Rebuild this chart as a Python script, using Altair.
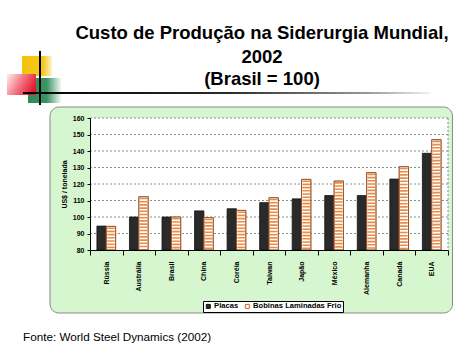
import altair as alt
import pandas as pd

# ---------------- data ----------------
COUNTRIES = ["Rússia", "Austrália", "Brasil", "China", "Coréia", "Taiwan",
             "Japão", "México", "Alemanha", "Canadá", "EUA"]
PLACAS = [94.5, 100, 100, 103.7, 105, 108.7, 111, 113, 113, 123, 138.6]
BOBINAS = [94.3, 112.3, 100, 99.6, 104, 111.7, 122.8, 121.8, 126.9, 130.5, 146.9]
SERIES = ["Placas", "Bobinas Laminadas Frio"]
Y_TICKS = [80, 90, 100, 110, 120, 130, 140, 150, 160]
TITLE_LINES = ["Custo de Produção na Siderurgia Mundial,", "2002", "(Brasil = 100)"]
SOURCE = "Fonte: World Steel Dynamics (2002)"
Y_TITLE = "US$ / tonelada"

rows = []
for c, p, b in zip(COUNTRIES, PLACAS, BOBINAS):
    rows.append({"pais": c, "serie": SERIES[0], "valor": p})
    rows.append({"pais": c, "serie": SERIES[1], "valor": b})
df = pd.DataFrame(rows)
df_bob = df[df["serie"] == SERIES[1]]
grid_df = pd.DataFrame({"valor": Y_TICKS[1:]})
one = pd.DataFrame({"a": [0]})
BASE = Y_TICKS[0]

FONT = "Liberation Sans"
W, H = 358, 132

xs = alt.Scale(domain=COUNTRIES, paddingInner=0, paddingOuter=0)
xo = alt.Scale(domain=SERIES, paddingInner=0, paddingOuter=0.74)
ys = alt.Scale(domain=[Y_TICKS[0], Y_TICKS[-1]], nice=False, zero=False)

x_axis = alt.Axis(title=None, labelAngle=-90, labelFont=FONT, labelFontSize=7,
                  labelFontWeight="bold", labelColor="black", domainColor="black",
                  tickColor="black", tickSize=5, labelPadding=6, tickBand="extent",
                  zindex=1)
y_axis = alt.Axis(title=Y_TITLE, values=Y_TICKS, grid=False, labelFont=FONT,
                  labelFontSize=7, labelFontWeight="bold", labelColor="black",
                  labelOverlap=False, labelFlush=False,
                  titleFont=FONT, titleFontSize=7, titleFontWeight="bold",
                  titleColor="black", titlePadding=5, domainColor="black",
                  tickColor="black", tickSize=3, labelPadding=3, zindex=1)
xo_enc = alt.XOffset("serie:N", scale=xo, sort=SERIES)

legend = alt.Legend(orient="none", legendX=113, legendY=183, direction="horizontal",
                    title=None, strokeColor="black", fillColor="white", padding=1.5,
                    symbolType="square", symbolSize=16, symbolStrokeWidth=1,
                    labelFont=FONT, labelFontSize=7.6, labelFontWeight="bold",
                    labelColor="black", labelOffset=2, columnPadding=4)

# ---------------- decorations ----------------
def box(x, x2, y, y2, **kw):
    return alt.Chart(one).mark_rect(**kw).encode(
        x=alt.value(x), x2=alt.value(x2), y=alt.value(y), y2=alt.value(y2))

def grad(stops, x1=0, y1=0, x2=1, y2=0):
    return alt.LinearGradient(gradient="linear",
                              stops=[alt.GradientStop(color=c, offset=o) for o, c in stops],
                              x1=x1, y1=y1, x2=x2, y2=y2)

green_box = box(-40, 362.5, -11, 195, fill="#d5f6cf", stroke="#8a8a8a", strokeWidth=1,
                cornerRadius=9)
plot_bg = box(0, W, 0, H, fill="white")
yellow = box(-68, -38, -62, -42, fill=grad([(0, "#f4c20d"), (0.7, "#f6c81a"), (1, "#fdf3d0")]))
green_sq = box(-62, -28, -40, -15, fill=grad([(0, "#2e8b57"), (0.55, "#3a9363"), (1, "#ffffff")]))
red_sq = box(-83, -54, -44, -23, fill=grad([(0, "#fbe0e0"), (0.5, "#f27080"), (1, "#e3162b")],
                                             x1=0, y1=0.2, x2=1, y2=0.6))
vline = box(-51, -49, -67, -13, fill="black")
hline = box(-67, 340, -26, -24, fill=grad([(0, "#000000"), (0.5, "#2a2a2a"), (0.85, "#9a9a9a"),
                                            (1, "#f0f0f0")]))

grid = alt.Chart(grid_df).mark_rule(color="#8c8c8c", strokeDash=[2, 2], strokeWidth=1).encode(
    y=alt.Y("valor:Q", scale=ys, axis=y_axis), x=alt.value(0), x2=alt.value(W))
right_edge = alt.Chart(one).mark_rule(color="#8c8c8c", strokeDash=[2, 2], strokeWidth=1).encode(
    x=alt.value(W), y=alt.value(0), y2=alt.value(H))

# ---------------- bars ----------------
bars = alt.Chart(df).mark_bar(strokeWidth=0.8).encode(
    x=alt.X("pais:N", scale=xs, sort=COUNTRIES, axis=x_axis),
    xOffset=xo_enc,
    y=alt.Y("valor:Q", scale=ys, axis=y_axis), y2=alt.datum(BASE),
    fill=alt.Fill("serie:N", sort=SERIES,
                  scale=alt.Scale(domain=SERIES, range=["#2a2a2a", "#ffffff"]), legend=legend),
    stroke=alt.Stroke("serie:N", sort=SERIES,
                      scale=alt.Scale(domain=SERIES, range=["#111111", "#c8642a"]), legend=legend),
)
hatch = alt.Chart(df_bob).mark_rule(strokeWidth=7.6, strokeDash=[1.6, 1.6], color="#ec8a45",
                                    yOffset=1).encode(
    x=alt.X("pais:N", scale=xs, sort=COUNTRIES, axis=x_axis), xOffset=xo_enc,
    y=alt.Y("valor:Q", scale=ys, axis=y_axis), y2=alt.datum(BASE))
outline = alt.Chart(df_bob).mark_bar(fillOpacity=0, stroke="#8a4a25", strokeWidth=0.8).encode(
    x=alt.X("pais:N", scale=xs, sort=COUNTRIES, axis=x_axis), xOffset=xo_enc,
    y=alt.Y("valor:Q", scale=ys, axis=y_axis), y2=alt.datum(BASE))

# ---------------- texts ----------------
title_layers = []
for txt, yy in zip(TITLE_LINES, [-85, -61, -39]):
    title_layers.append(alt.Chart(one).mark_text(font=FONT, fontSize=18.5, fontWeight="bold",
                                                 color="black", align="center", baseline="middle").encode(
        x=alt.value(172), y=alt.value(yy), text=alt.value(txt)))
source = alt.Chart(one).mark_text(font=FONT, fontSize=11.7, color="black", align="left",
                                  baseline="middle").encode(
    x=alt.value(-67), y=alt.value(219), text=alt.value(SOURCE))

chart = alt.layer(
    green_box, plot_bg, yellow, green_sq, red_sq, vline, hline,
    grid, right_edge, bars, hatch, outline, *title_layers, source
).properties(
    width=W, height=H,
    autosize=alt.AutoSizeParams(type="none"),
    padding={"left": 90, "top": 118, "right": 26, "bottom": 105},
    background="white",
).configure_view(stroke=None)

chart.save("out.html", embed_options={"renderer": "svg", "actions": False})
